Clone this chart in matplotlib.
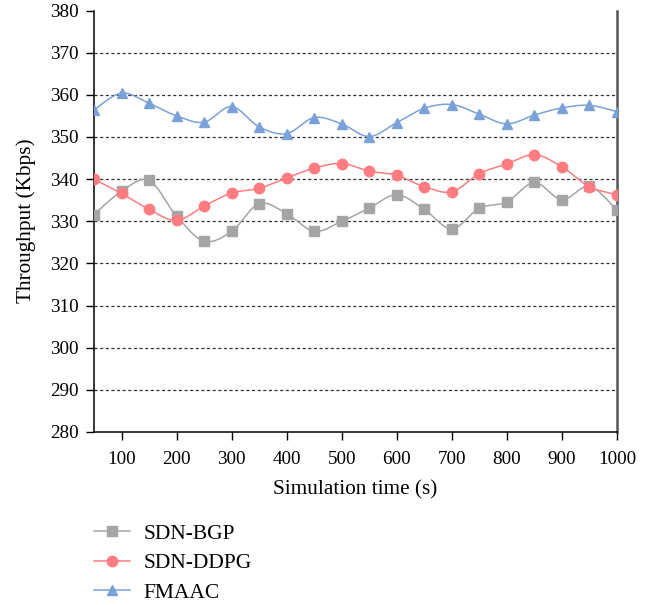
import matplotlib.pyplot as plt
import numpy as np

plt.rcParams['font.family'] = ['Liberation Serif', 'DejaVu Serif']

# Data
time_s = [50, 100, 150, 200, 250, 300, 350, 400, 450, 500,
          550, 600, 650, 700, 750, 800, 850, 900, 950, 1000]
sdn_bgp = [331.6, 337.1, 339.7, 331.2, 325.3, 327.6, 334.2, 331.8, 327.6, 330.0,
           333.1, 336.3, 332.8, 328.2, 333.1, 334.6, 339.2, 335.1, 338.3, 332.6]
sdn_ddpg = [340.0, 336.6, 332.8, 330.2, 333.6, 336.7, 337.8, 340.3, 342.6, 343.7,
            341.9, 340.9, 338.2, 337.0, 341.3, 343.6, 345.8, 342.9, 338.2, 336.3]
fmaac = [356.4, 360.4, 358.0, 355.0, 353.5, 357.2, 352.4, 350.8, 354.6, 353.1,
         350.1, 353.4, 356.8, 357.7, 355.4, 353.1, 355.2, 356.9, 357.5, 356.0]

series = [("SDN-BGP", sdn_bgp, "#a5a5a5", "s"),
          ("SDN-DDPG", sdn_ddpg, "#ff7c80", "o"),
          ("FMAAC", fmaac, "#7aa2d8", "^")]


def smooth(x, y, n=20):
    # bezier smoothing through the points, like a spreadsheet "smoothed line"
    x = np.asarray(x, float)
    y = np.asarray(y, float)
    xs, ys = [x[0]], [y[0]]
    for i in range(len(x) - 1):
        p0 = np.array([x[max(i - 1, 0)], y[max(i - 1, 0)]])
        p1 = np.array([x[i], y[i]])
        p2 = np.array([x[i + 1], y[i + 1]])
        p3 = np.array([x[min(i + 2, len(x) - 1)], y[min(i + 2, len(x) - 1)]])
        c1 = p1 + (p2 - p0) / 6
        c2 = p2 - (p3 - p1) / 6
        t = np.linspace(0, 1, n)[1:, None]
        pts = ((1 - t) ** 3 * p1 + 3 * (1 - t) ** 2 * t * c1
               + 3 * (1 - t) * t ** 2 * c2 + t ** 3 * p2)
        xs.extend(pts[:, 0])
        ys.extend(pts[:, 1])
    return np.array(xs), np.array(ys)


fig = plt.figure(figsize=(6.6, 6.05), dpi=100)
ax = fig.add_axes([0.1424, 0.286, 0.7924, 0.6966])

for name, vals, col, mk in series:
    sx, sy = smooth(time_s, vals)
    ax.plot(sx, sy, color=col, lw=1.1, zorder=3)
    ax.plot(time_s, vals, linestyle='none', marker=mk, color=col,
            markersize=7.5, zorder=4)
    ax.plot([], [], color=col, lw=1.1, marker=mk, markersize=7.5, label=name)

ax.set_xlim(50, 1000)
ax.set_ylim(280, 380)
ax.set_xticks(range(100, 1001, 100))
ax.set_yticks(range(280, 381, 10))
for yv in range(290, 380, 10):
    ax.axhline(yv, color='#333333', lw=0.9, ls=(0, (2.5, 2)), zorder=1)

ax.spines['top'].set_visible(False)
ax.spines['right'].set_color('#555555')
ax.spines['right'].set_linewidth(1.8)
ax.spines['left'].set_linewidth(1.1)
ax.spines['bottom'].set_linewidth(1.1)
ax.tick_params(axis='y', direction='out', length=6, width=1, pad=5,
               labelsize=13.8, colors='black')
ax.tick_params(axis='x', direction='out', length=5.5, width=1, pad=8,
               labelsize=13.8, colors='black')

ax.set_xlabel("Simulation time (s)", fontsize=15.3, labelpad=9)
ax.set_ylabel("Throughput (Kbps)", fontsize=15.3, labelpad=10)

fig.legend(loc='upper left', bbox_to_anchor=(0.143, 0.134), frameon=False,
           fontsize=15.5, handlelength=1.65, handletextpad=0.65,
           labelspacing=0.43, borderpad=0, borderaxespad=0)

fig.savefig("out.png", dpi=100)
